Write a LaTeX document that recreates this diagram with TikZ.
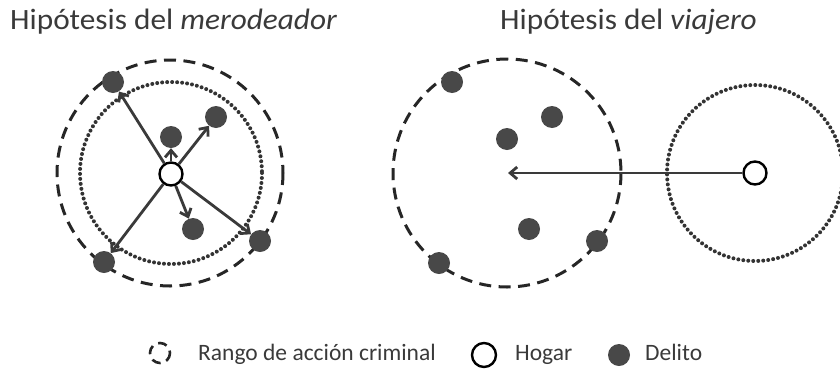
\documentclass[tikz,border=0pt]{standalone}
\usepackage{fontspec}
\setmainfont{Carlito}
\newfontfamily\titlefont[FakeStretch=1.06]{Carlito}
\usetikzlibrary{arrows.meta}
\definecolor{ink}{HTML}{3A3A3A}
\definecolor{dotgray}{HTML}{484848}
\begin{document}
\begin{tikzpicture}[x=1pt, y=-1pt, font=\color{ink},
    crime/.style={circle, fill=dotgray, minimum size=22pt, inner sep=0pt},
    home/.style={circle, draw=black, line width=2.4pt, fill=white, minimum size=23pt, inner sep=0pt},
    actionrange/.style={draw=black!85, line width=3pt, dash pattern=on 12pt off 7.5pt},
    homereach/.style={draw=black!80, line width=4pt, line cap=round, dash pattern=on 0pt off 5pt},
    trip/.style={draw=ink, line width=2.8pt, -{Straight Barb[length=7pt,width=12pt]}},
    heading/.style={anchor=base west, inner sep=0pt, font=\titlefont\fontsize{29.5}{34}\selectfont\color{ink}},
    keytext/.style={anchor=base west, inner sep=0pt, font=\fontsize{23.5}{27}\selectfont\color{ink}}]
    \useasboundingbox (0,0) rectangle (840,370);

    % titles
    \node [heading] (tleft) at (10,29) {Hipótesis del \textit{merodeador}};
    \node [heading] (tright) at (500,29) {Hipótesis del \textit{viajero}};

    % merodeador
    \draw [actionrange] (170,173) circle (113);
    \draw [homereach] (171,173) circle (91);
    \node [home] (hleft) at (171,174) {};
    \node [crime] (m1) at (113,82) {};
    \node [crime] (m2) at (216,117) {};
    \node [crime] (m3) at (171,137) {};
    \node [crime] (m4) at (193,229) {};
    \node [crime] (m5) at (260,241) {};
    \node [crime] (m6) at (104,262) {};
    \draw [trip] (hleft) -- (m1);
    \draw [trip] (hleft) -- (m2);
    \draw [trip] (hleft) -- (m3);
    \draw [trip] (hleft) -- (m4);
    \draw [trip] (hleft) -- (m5);
    \draw [trip] (hleft) -- (m6);

    % viajero
    \draw [actionrange] (507,173) circle (114);
    \draw [homereach] (755,173) circle (88);
    \node [crime] (v1) at (452,82) {};
    \node [crime] (v2) at (552,117) {};
    \node [crime] (v3) at (507,139) {};
    \node [crime] (v4) at (529,229) {};
    \node [crime] (v5) at (597,241) {};
    \node [crime] (v6) at (439,263) {};
    \node [home] (hright) at (755,173) {};
    \coordinate (target) at (508,173);
    \draw [trip] (hright) -- (target);

    % legend
    \draw [draw=black!85, line width=2.6pt, dash pattern=on 9pt off 6pt] (160,353) circle (10);
    \node [keytext] (lrange) at (198,360) {Rango de acción criminal};
    \node [home, minimum size=24pt] (lhome) at (484,355) {};
    \node [keytext] (lhogar) at (515,360) {Hogar};
    \node [crime, minimum size=22pt] (lcrime) at (619,355) {};
    \node [keytext] (ldelito) at (645,360) {Delito};
\end{tikzpicture}
\end{document}
